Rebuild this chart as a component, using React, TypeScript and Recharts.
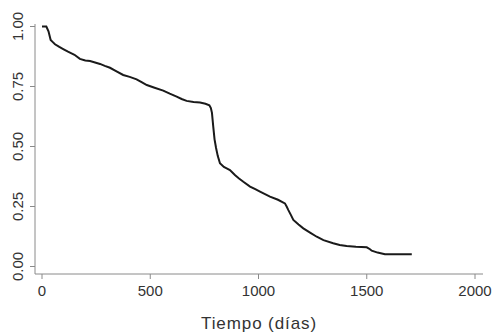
import { LineChart, Line, XAxis, YAxis } from "recharts";

// time in days and estimated survival
const times = [
  0, 20, 30, 40, 50, 60, 80, 100, 120, 150, 175, 200, 222, 245, 268, 290, 314, 340, 375, 405,
  437, 460, 484, 520, 560, 590, 622, 645, 668, 700, 730, 755, 773, 780, 785, 791, 797, 804, 812,
  822, 840, 853, 868, 891, 910, 930, 961, 985, 1007, 1030, 1053, 1090, 1122, 1130, 1138, 1150,
  1161, 1185, 1207, 1240, 1269, 1300, 1345, 1375, 1407, 1450, 1500, 1515, 1523, 1550, 1584,
  1650, 1708,
];
const survival = [
  1.0, 1.0, 0.98, 0.944, 0.935, 0.926, 0.915, 0.905, 0.895, 0.882, 0.865, 0.858, 0.856, 0.85,
  0.844, 0.836, 0.828, 0.815, 0.798, 0.79, 0.78, 0.768, 0.756, 0.745, 0.733, 0.72, 0.708, 0.698,
  0.69, 0.685, 0.683, 0.678, 0.672, 0.66, 0.64, 0.583, 0.53, 0.494, 0.46, 0.43, 0.415, 0.409,
  0.402, 0.381, 0.367, 0.353, 0.333, 0.322, 0.312, 0.302, 0.291, 0.278, 0.263, 0.25, 0.235,
  0.214, 0.194, 0.175, 0.159, 0.14, 0.124, 0.11, 0.097, 0.09, 0.085, 0.082, 0.08, 0.072, 0.066,
  0.058, 0.051, 0.051, 0.051,
];
const xTicks = [0, 500, 1000, 1500, 2000];
const yTicks = [0, 0.25, 0.5, 0.75, 1];

const data = times.map((t, i) => ({ t, s: survival[i] }));

const FONT = "Arial, 'Liberation Sans', Helvetica, sans-serif";
const TEXT = "#333";
const AXIS = "#8a8a8a";

function YTick(props: any) {
  const { y, payload } = props;
  const x = 23;
  return (
    <text
      x={x}
      y={y}
      transform={`rotate(-90, ${x}, ${y})`}
      textAnchor="middle"
      fontSize={15}
      fill={TEXT}
      fontFamily={FONT}
    >
      {Number(payload.value).toFixed(2)}
    </text>
  );
}

function XTick(props: any) {
  const { x, payload } = props;
  return (
    <text x={x} y={296} textAnchor="middle" fontSize={15} fill={TEXT} fontFamily={FONT}>
      {payload.value}
    </text>
  );
}

export default function App() {
  return (
    <div style={{ position: "absolute", left: 0, top: 0, width: 493, height: 332, background: "#fff" }}>
      <LineChart width={493} height={332} data={data} margin={{ top: 24, right: 10, bottom: 0, left: 0 }}>
        <XAxis
          type="number"
          dataKey="t"
          domain={[0, 2000]}
          ticks={xTicks}
          padding={{ left: 7, right: 8 }}
          height={58}
          stroke={AXIS}
          tickSize={5}
          tick={<XTick />}
          label={{
            value: "Tiempo (días)",
            position: "insideBottom",
            offset: 3,
            fontSize: 17,
            letterSpacing: 0.9,
            fill: TEXT,
            fontFamily: FONT,
          }}
        />
        <YAxis
          type="number"
          domain={[0, 1]}
          ticks={yTicks}
          padding={{ top: 2.5, bottom: 7.5 }}
          width={35}
          stroke={AXIS}
          tickSize={5}
          tick={<YTick />}
        />
        {/* dense small steps read as a jagged line, so draw point to point */}
        <Line
          type="linear"
          dataKey="s"
          stroke="#1a1a1a"
          strokeWidth={2}
          dot={false}
          isAnimationActive={false}
        />
      </LineChart>
    </div>
  );
}
